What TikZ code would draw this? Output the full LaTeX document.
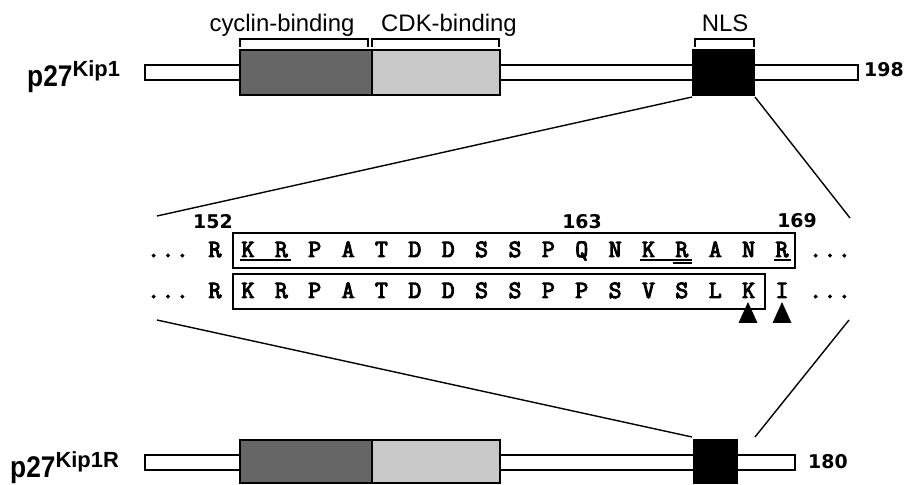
\documentclass[tikz,border=0pt]{standalone}
\usepackage{fontspec}
\setmainfont{Liberation Sans}
\newfontfamily\numfont{DejaVu Sans}
\newfontfamily\seqfont[FakeBold=4]{Latin Modern Mono}
\definecolor{cycgray}{HTML}{666666}
\definecolor{cdkgray}{HTML}{C8C8C8}
\tikzset{
  blk/.style={draw, line width=1.4bp, inner sep=0pt, outer sep=0pt, anchor=north west},
  barbox/.style={blk, fill=white},
  cycbox/.style={blk, fill=cycgray},
  cdkbox/.style={blk, fill=cdkgray},
  nlsbox/.style={blk, fill=black},
  seqbox/.style={draw, line width=1.3bp, inner sep=0pt, outer sep=0pt, anchor=north west},
  brk/.style={line width=1.2bp},
  zoomline/.style={line width=1.4bp},
  dom/.style={font=\fontsize{24}{24}\selectfont, anchor=base, inner sep=0pt},
  aa/.style={font=\seqfont\fontsize{25}{25}\selectfont, anchor=base, inner sep=0pt},
  num/.style={font=\numfont\bfseries\fontsize{19}{19}\selectfont, inner sep=0pt},
  uline/.style={line width=1.7bp},
}
\newcommand{\tdots}{.\hspace{1.5bp}.\hspace{1.5bp}.}
\begin{document}
\begin{tikzpicture}[x=1bp,y=-1bp]
\useasboundingbox (0,0) rectangle (910,485);
% ---------- top protein ----------
\node[barbox, minimum width=713bp, minimum height=15bp] (bar1) at (145,65) {};
\node[cycbox, minimum width=132bp, minimum height=45bp] (cyc1) at (240,50) {};
\node[cdkbox, minimum width=128bp, minimum height=45bp] (cdk1) at (372,50) {};
\node[nlsbox, minimum width=61bp, minimum height=45bp] (nls1) at (693,50) {};
\node[num, anchor=base west] (n198) at (864,77) {198};
\node[anchor=base west, inner sep=0pt] (lab1) at (27,87)
  {\bfseries\scalebox{0.88}[1]{\fontsize{30}{30}\selectfont p27}\raisebox{10bp}{\fontsize{22}{22}\selectfont Kip1}};
% brackets
\draw[brk] (240,47) -- (240,39) -- (368,39) -- (368,47);
\draw[brk] (372,47) -- (372,39) -- (499,39) -- (499,47);
\draw[brk] (695,47) -- (695,39) -- (754,39) -- (754,47);
\node[dom] (tcyc) at (282,32) {cyclin-binding};
\node[dom] (tcdk) at (449,32) {CDK-binding};
\node[dom] (tnls) at (725,32) {NLS};
% ---------- bottom protein ----------
\node[barbox, minimum width=650bp, minimum height=15bp] (bar2) at (145,455) {};
\node[cycbox, minimum width=132bp, minimum height=43bp] (cyc2) at (240,440) {};
\node[cdkbox, minimum width=128bp, minimum height=43bp] (cdk2) at (372,440) {};
\node[nlsbox, minimum width=43bp, minimum height=43bp] (nls2) at (694,440) {};
\node[num, anchor=base west] (n180) at (808,468) {180};
\node[anchor=base west, inner sep=0pt] (lab2) at (10,477)
  {\bfseries\scalebox{0.88}[1]{\fontsize{30}{30}\selectfont p27}\raisebox{10bp}{\fontsize{22}{22}\selectfont Kip1R}};
% ---------- zoom lines ----------
\coordinate (ztl) at (157,216);
\coordinate (ztr) at (850,218);
\coordinate (zbl) at (157,320);
\coordinate (zbr) at (849,320);
\draw[zoomline] ([xshift=-1bp,yshift=-2bp]nls1.south west) -- (ztl);
\draw[zoomline] ([xshift=1bp,yshift=-2bp]nls1.south east) -- (ztr);
\draw[zoomline] (zbl) -- ([xshift=-2bp,yshift=3bp]nls2.north west);
\draw[zoomline] (zbr) -- ([xshift=18bp,yshift=3bp]nls2.north east);
% ---------- sequence ----------
\node[seqbox, minimum width=562bp, minimum height=35bp] (box1) at (233,233) {};
\node[seqbox, minimum width=532bp, minimum height=35bp] (box2) at (233,274) {};
\node[num, anchor=base] (n152) at (213,229) {152};
\node[num, anchor=base] (n163) at (582,229) {163};
\node[num, anchor=base] (n169) at (797,228) {169};
\node[aa] (d1l) at (168,257) {\tdots};
\node[aa] (d2l) at (168,298) {\tdots};
\node[aa] (d1r) at (830,257) {\tdots};
\node[aa] (d2r) at (830,298) {\tdots};
\node[aa] (r1p) at (215,257) {R};
\node[aa] (r2p) at (215,298) {R};
\foreach \c [count=\i from 0] in {K,R,P,A,T,D,D,S,S,P,Q,N,K,R,A,N,R}
  \node[aa] (a\i) at (248+33.375*\i,257) {\c};
\foreach \c [count=\i from 0] in {K,R,P,A,T,D,D,S,S,P,P,S,V,S,L,K,I}
  \node[aa] (b\i) at (248+33.375*\i,298) {\c};
% underlines
\draw[uline] (240,260) -- (291,260);
\draw[uline] (640,260) -- (692,260);
\draw[line width=2bp] (673,263) -- (692,263);
\draw[uline] (774,260) -- (791,260);
% triangles
\fill (738.5,323) -- (748,302) -- (757.5,323) -- cycle;
\fill (772.5,323) -- (782,302) -- (791.5,323) -- cycle;
\end{tikzpicture}
\end{document}
